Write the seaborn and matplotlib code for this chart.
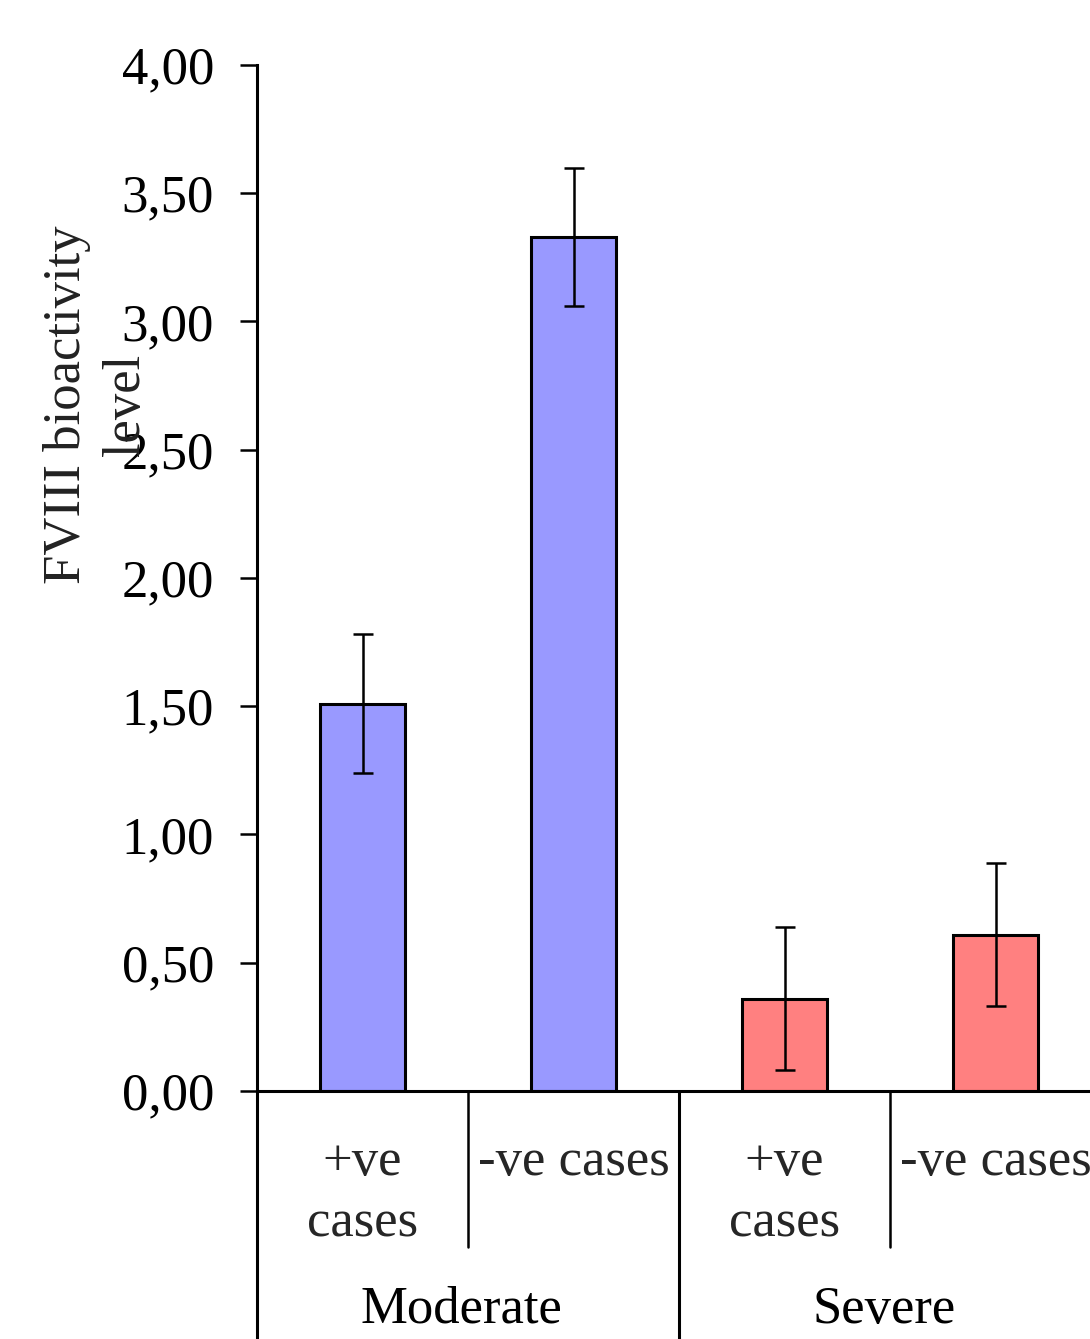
import matplotlib
matplotlib.use("Agg")
import matplotlib.pyplot as plt
import matplotlib.transforms as mtransforms
from matplotlib.ticker import FuncFormatter
import seaborn as sns
import pandas as pd

# ---- data ----
groups = ["Moderate", "Moderate", "Severe", "Severe"]
case_labels = ["+ve\ncases", "-ve cases", "+ve\ncases", "-ve cases"]
bar_ids = ["Moderate +ve", "Moderate -ve", "Severe +ve", "Severe -ve"]
values = [1.51, 3.33, 0.36, 0.61]
errors = [0.27, 0.27, 0.28, 0.28]
group_names = ["Moderate", "Severe"]
y_ticks = [0.0, 0.5, 1.0, 1.5, 2.0, 2.5, 3.0, 3.5, 4.0]

df = pd.DataFrame({"bar": bar_ids, "value": values, "group": groups})

sns.set_theme(style="white")
plt.rcParams["font.family"] = ["Liberation Serif", "DejaVu Serif"]
FS = 38

fig = plt.figure(figsize=(10.9, 13.39), dpi=100)
ax = fig.add_axes([0.2358, 0.1852, 0.7743, 0.7663])

sns.barplot(data=df, x="bar", y="value", hue="group", dodge=False,
            palette={"Moderate": "#9999FF", "Severe": "#FF8080"},
            saturation=1, width=0.40, edgecolor="black", linewidth=2.2,
            legend=False, ax=ax)

xpos = list(range(len(bar_ids)))
ax.errorbar(xpos, values, yerr=errors, fmt="none", ecolor="black",
            elinewidth=1.8, capsize=7, capthick=1.8, zorder=5)

ax.set_xlim(-0.5, 3.5)
ax.set_ylim(0, 4)
ax.set_yticks(y_ticks)
ax.yaxis.set_major_formatter(FuncFormatter(lambda v, p: f"{v:.2f}".replace(".", ",")))
ax.tick_params(axis="y", direction="out", length=12, width=1.8, pad=19,
               labelsize=FS, left=True, colors="black")
ax.set_xticks(xpos)
ax.set_xticklabels(case_labels, fontsize=FS, linespacing=1.35)
ax.tick_params(axis="x", length=0, pad=34)

for s in ["top", "right"]:
    ax.spines[s].set_visible(False)
for s in ["left", "bottom"]:
    ax.spines[s].set_color("black")
    ax.spines[s].set_linewidth(2.2)

ax.set_xlabel("")
ax.set_ylabel("FVIII bioactivity\nlevel", fontsize=FS, linespacing=1.3,
              color="#222222")
ax.yaxis.set_label_coords(-0.19, 0.669)
ax.yaxis.label.set_va("center")

# category separator lines below the axis
trans = mtransforms.blended_transform_factory(ax.transData, ax.transAxes)
for xv in [-0.5, 1.5]:
    ax.plot([xv, xv], [0, -0.26], color="black", lw=2.2, transform=trans,
            clip_on=False)
for xv in [0.5, 2.5]:
    ax.plot([xv, xv], [0, -0.152], color="black", lw=1.8, transform=trans,
            clip_on=False)

for gi, name in enumerate(group_names):
    ax.text(gi * 2 + 0.47, -0.213, name, transform=trans, ha="center",
            va="center", fontsize=FS, color="black")

fig.savefig("out.png", dpi=100, facecolor="white")
